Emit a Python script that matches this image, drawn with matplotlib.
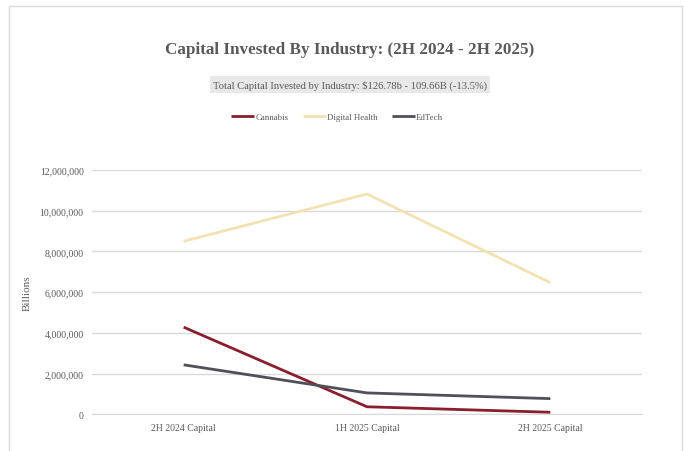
import numpy as np
import matplotlib.pyplot as plt
from matplotlib.patches import Rectangle
from matplotlib.ticker import FuncFormatter

plt.rcParams["font.family"] = ["Liberation Serif", "DejaVu Serif"]

# data
periods = ["2H 2024 Capital", "1H 2025 Capital", "2H 2025 Capital"]
cannabis = [4280000, 370000, 100000]
digital_health = [8500000, 10820000, 6470000]
edtech = [2430000, 1050000, 770000]

series_names = ["Cannabis", "Digital Health", "EdTech"]
series_colors = ["#8B1E2E", "#F2E2B3", "#505158"]
text_color = "#595959"

fig = plt.figure(figsize=(6.84, 4.52), dpi=100)
fig.patch.set_facecolor("white")

# outer chart border
fig.add_artist(
    Rectangle(
        (9 / 684, -0.05),
        673 / 684,
        1.05 - 6.5 / 452,
        transform=fig.transFigure,
        fill=False,
        edgecolor="#D9D9D9",
        linewidth=1.0,
    )
)

ax = fig.add_axes([92 / 684, 36.7 / 452, 550 / 684, 244.3 / 452])

x = np.arange(len(periods))
for vals, name, color in zip([cannabis, digital_health, edtech], series_names, series_colors):
    ax.plot(x, vals, color=color, linewidth=2.0, label=name, solid_capstyle="butt")

ax.set_xlim(-0.5, 2.5)
ax.set_ylim(0, 12000000)
ax.set_yticks(np.arange(0, 12000001, 2000000))
ax.yaxis.set_major_formatter(FuncFormatter(lambda v, p: f"{int(v):,}"))
ax.set_xticks(x, periods)
ax.grid(axis="y", color="#D9D9D9", linewidth=1.0)
ax.set_axisbelow(True)
for s in ["top", "right", "left"]:
    ax.spines[s].set_visible(False)
ax.spines["bottom"].set_color("#D9D9D9")
ax.tick_params(length=0, labelsize=7, colors=text_color, pad=6)
ax.tick_params(axis="y", pad=6)
ax.set_ylabel("Billions", fontsize=8, color=text_color)
ax.yaxis.set_label_coords(-60 / 550, 0.5)

fig.text(
    350 / 684, 1 - 50 / 452,
    "Capital Invested By Industry: (2H 2024 - 2H 2025)",
    ha="center", va="center", fontsize=12.3, fontweight="bold", color=text_color,
)
fig.text(
    350 / 684, 1 - 85.5 / 452,
    "Total Capital Invested by Industry: $126.78b - 109.66B (-13.5%)",
    ha="center", va="center", fontsize=7.6, color=text_color,
    bbox=dict(facecolor="#E8E8E8", edgecolor="none", boxstyle="square,pad=0.3"),
)

fig.legend(
    loc="center", bbox_to_anchor=(337 / 684, 1 - 118 / 452), ncol=3, frameon=False,
    fontsize=6.4, labelcolor=text_color, handlelength=2.6, handletextpad=0.1,
    columnspacing=1.6,
)

fig.savefig("out.png", dpi=100)
